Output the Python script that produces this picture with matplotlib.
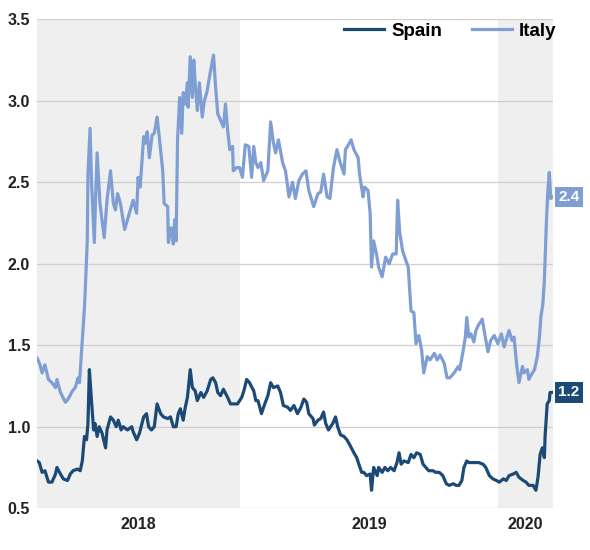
import pandas as pd
import matplotlib.pyplot as plt

plt.rcParams["font.family"] = ["Liberation Sans", "DejaVu Sans"]

start = pd.Timestamp("2018-03-19")
end = pd.Timestamp("2020-03-19")

# days since 2018-03-19, spread vs Bund (pp)
italy_day = [0, 4, 7, 11, 16, 21, 26, 28, 33, 40, 44, 50, 54, 58, 60, 63, 67, 68, 71, 72,
             75, 77, 81, 83, 85, 89, 95, 99, 104, 108, 111, 114, 118, 124, 128, 132, 136, 141, 143, 146,
             151, 153, 156, 159, 163, 166, 170, 173, 178, 180, 185, 186, 190, 193, 195, 197, 199, 202, 205, 207,
             210, 213, 214, 217, 220, 222, 224, 227, 230, 234, 237, 241, 244, 250, 253, 256, 260, 264, 267, 270,
             273, 277, 278, 283, 287, 291, 295, 300, 304, 307, 310, 313, 317, 321, 327, 331, 335, 338, 342, 348,
             352, 357, 362, 366, 371, 376, 381, 385, 392, 398, 402, 406, 411, 415, 420, 425, 429, 435, 437, 440,
             445, 449, 455, 457, 462, 464, 469, 472, 474, 477, 481, 484, 489, 494, 499, 504, 509, 511, 514, 518,
             521, 526, 530, 534, 537, 541, 545, 548, 553, 557, 563, 567, 571, 577, 581, 585, 591, 597, 599, 604,
             607, 609, 612, 615, 619, 622, 625, 631, 634, 639, 643, 648, 653, 658, 662, 666, 669, 673, 676, 680,
             683, 688, 690, 695, 697, 702, 705, 709, 712, 714, 717, 719, 722, 724, 726, 728, 730]
italy = [1.42, 1.38, 1.33, 1.38, 1.29, 1.27, 1.24, 1.29, 1.21, 1.15, 1.17, 1.22, 1.24, 1.30, 1.27, 1.47, 1.73, 1.82, 2.14, 2.55,
         2.83, 2.51, 2.13, 2.43, 2.68, 2.37, 2.16, 2.39, 2.57, 2.37, 2.33, 2.43, 2.37, 2.21, 2.27, 2.33, 2.39, 2.31, 2.53, 2.47,
         2.78, 2.74, 2.81, 2.65, 2.79, 2.80, 2.90, 2.78, 2.57, 2.37, 2.35, 2.13, 2.22, 2.12, 2.27, 2.14, 2.76, 3.02, 2.80, 3.05,
         2.98, 3.11, 2.96, 3.27, 3.02, 3.25, 3.11, 2.94, 3.11, 2.90, 3.00, 3.06, 3.14, 3.28, 3.08, 2.92, 2.88, 2.84, 2.98, 2.82,
         2.70, 2.72, 2.57, 2.59, 2.59, 2.53, 2.73, 2.72, 2.53, 2.72, 2.62, 2.59, 2.62, 2.51, 2.57, 2.87, 2.74, 2.68, 2.76, 2.62,
         2.57, 2.41, 2.50, 2.40, 2.51, 2.55, 2.57, 2.45, 2.35, 2.43, 2.44, 2.55, 2.41, 2.40, 2.59, 2.70, 2.63, 2.55, 2.70, 2.72,
         2.76, 2.70, 2.65, 2.55, 2.41, 2.47, 2.45, 2.31, 1.98, 2.14, 2.06, 1.98, 1.92, 2.04, 2.00, 2.06, 2.06, 2.39, 2.19, 2.08,
         2.04, 1.98, 1.71, 1.70, 1.51, 1.56, 1.47, 1.33, 1.43, 1.41, 1.45, 1.41, 1.44, 1.39, 1.30, 1.30, 1.33, 1.37, 1.35, 1.47,
         1.55, 1.67, 1.55, 1.57, 1.52, 1.59, 1.62, 1.66, 1.58, 1.46, 1.53, 1.56, 1.51, 1.57, 1.49, 1.55, 1.59, 1.53, 1.55, 1.37,
         1.27, 1.37, 1.33, 1.35, 1.29, 1.33, 1.35, 1.43, 1.55, 1.67, 1.76, 1.90, 2.27, 2.45, 2.56, 2.40, 2.41]

spain_day = [0, 3, 7, 11, 16, 21, 26, 28, 33, 37, 43, 47, 51, 57, 61, 64, 67, 70, 72, 74,
             77, 80, 82, 85, 88, 92, 97, 99, 104, 108, 112, 115, 119, 122, 128, 134, 136, 141, 145, 151,
             155, 158, 162, 166, 170, 175, 179, 185, 189, 193, 197, 200, 203, 207, 210, 213, 217, 220, 224, 227,
             232, 236, 241, 246, 249, 253, 256, 260, 264, 270, 274, 278, 284, 290, 293, 297, 301, 307, 310, 313,
             318, 321, 327, 331, 335, 341, 345, 349, 355, 359, 364, 369, 374, 378, 382, 385, 391, 393, 398, 402,
             406, 409, 413, 419, 423, 426, 430, 435, 439, 443, 449, 453, 456, 460, 463, 467, 472, 474, 477, 482,
             484, 489, 493, 497, 501, 506, 510, 513, 516, 520, 526, 530, 534, 538, 543, 547, 551, 555, 561, 565,
             570, 575, 580, 584, 590, 594, 598, 602, 605, 609, 612, 618, 622, 626, 632, 636, 641, 646, 651, 655,
             661, 665, 669, 675, 679, 683, 689, 693, 697, 703, 707, 710, 713, 716, 719, 720, 723, 726, 727, 730]
spain = [0.79, 0.78, 0.72, 0.73, 0.66, 0.66, 0.71, 0.75, 0.71, 0.68, 0.67, 0.71, 0.73, 0.74, 0.73, 0.79, 0.94, 0.92, 1.02, 1.35,
         1.16, 0.98, 1.02, 0.94, 1.00, 0.96, 0.87, 0.98, 1.06, 1.04, 1.00, 1.04, 0.98, 1.00, 0.98, 1.00, 0.97, 0.92, 0.96, 1.06,
         1.08, 1.00, 0.98, 1.00, 1.14, 1.08, 1.06, 1.05, 1.06, 1.00, 1.00, 1.08, 1.11, 1.04, 1.12, 1.18, 1.35, 1.24, 1.22, 1.16,
         1.21, 1.18, 1.22, 1.29, 1.30, 1.27, 1.21, 1.19, 1.23, 1.18, 1.14, 1.14, 1.14, 1.18, 1.22, 1.29, 1.27, 1.22, 1.16, 1.16,
         1.08, 1.12, 1.19, 1.27, 1.24, 1.25, 1.21, 1.13, 1.12, 1.10, 1.13, 1.08, 1.12, 1.17, 1.15, 1.08, 1.05, 1.01, 1.04, 1.05,
         1.09, 1.02, 0.98, 1.02, 1.06, 1.00, 0.95, 0.94, 0.92, 0.89, 0.84, 0.81, 0.77, 0.72, 0.72, 0.70, 0.71, 0.61, 0.75, 0.70,
         0.75, 0.72, 0.75, 0.73, 0.75, 0.73, 0.78, 0.84, 0.77, 0.79, 0.78, 0.83, 0.81, 0.84, 0.83, 0.77, 0.75, 0.73, 0.73, 0.72,
         0.72, 0.70, 0.65, 0.64, 0.65, 0.64, 0.64, 0.67, 0.75, 0.79, 0.78, 0.78, 0.78, 0.78, 0.77, 0.75, 0.70, 0.68, 0.67, 0.66,
         0.68, 0.67, 0.70, 0.71, 0.72, 0.69, 0.67, 0.66, 0.64, 0.64, 0.61, 0.69, 0.83, 0.87, 0.81, 0.94, 1.14, 1.16, 1.21, 1.21]

years = ["2018", "2019", "2020"]
spain_color = "#1a4a75"
italy_color = "#7f9ed3"

italy_dates = start + pd.to_timedelta(italy_day, unit="D")
spain_dates = start + pd.to_timedelta(spain_day, unit="D")

fig, ax = plt.subplots(figsize=(5.9, 5.5), dpi=100)
fig.subplots_adjust(left=0.063, right=0.937, bottom=0.076, top=0.965)

# alternating year shading
ax.axvspan(start, pd.Timestamp("2019-01-01"), color="#efefef", zorder=0, lw=0)
ax.axvspan(pd.Timestamp("2020-01-01"), end, color="#efefef", zorder=0, lw=0)

ax.plot(spain_dates, spain, color=spain_color, lw=2.3, label="Spain", zorder=3)
ax.plot(italy_dates, italy, color=italy_color, lw=2.3, label="Italy", zorder=3)

ax.set_xlim(start, end)
ax.set_ylim(0.5, 3.5)
ax.set_yticks([0.5, 1.0, 1.5, 2.0, 2.5, 3.0, 3.5])
ax.yaxis.set_major_formatter(plt.FuncFormatter(lambda v, p: f"{v:.1f}"))
ax.grid(axis="y", color="#cfcfcf", lw=0.9)
ax.set_axisbelow(True)
for s in ax.spines.values():
    s.set_visible(False)

# year labels centred on the visible part of each year
edges = [start, pd.Timestamp("2019-01-01"), pd.Timestamp("2020-01-01"), end]
mids = [edges[i] + (edges[i + 1] - edges[i]) / 2 for i in range(3)]
ax.set_xticks(mids)
ax.set_xticklabels(years, fontweight="bold", fontsize=11.5, color="#222222")
ax.tick_params(axis="x", length=0, pad=6)
ax.tick_params(axis="y", length=0, pad=5, labelsize=11.5, labelcolor="#222222")
for t in ax.get_yticklabels():
    t.set_fontweight("bold")

leg = ax.legend(loc="upper right", ncol=2, frameon=False, bbox_to_anchor=(1.04, 1.027),
                prop={"weight": "bold", "size": 13.5}, handlelength=2.1, columnspacing=1.6,
                handletextpad=0.4)
for h in leg.get_lines():
    h.set_linewidth(2.3)

# end-value tags
for dates, vals, col in [(italy_dates, italy, italy_color), (spain_dates, spain, spain_color)]:
    ax.annotate(f"{vals[-1]:.1f}", xy=(end, vals[-1]), xytext=(4, 0), textcoords="offset points",
                va="center", ha="left", color="white", fontweight="bold", fontsize=11,
                bbox=dict(boxstyle="square,pad=0.22", fc=col, ec="none"), annotation_clip=False)

plt.savefig("out.png", dpi=100)
